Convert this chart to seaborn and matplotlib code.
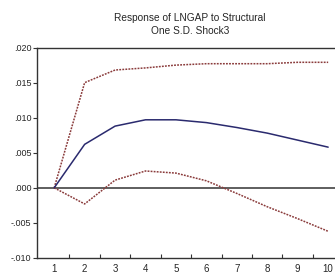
import numpy as np
import pandas as pd
import matplotlib
matplotlib.use("Agg")
import matplotlib.pyplot as plt
import seaborn as sns
from matplotlib.ticker import FuncFormatter, FixedLocator

periods = [1, 2, 3, 4, 5, 6, 7, 8, 9, 10]
response = [0.0, 0.0062, 0.0088, 0.0097, 0.0097, 0.0093, 0.0086, 0.0078, 0.0068, 0.0058]
upper = [0.0, 0.0150, 0.0168, 0.0171, 0.0175, 0.0177, 0.0177, 0.0177, 0.0179, 0.0179]
lower = [0.0, -0.0023, 0.0011, 0.0024, 0.0021, 0.0010, -0.0008, -0.0027, -0.0044, -0.0062]
yticks = [-0.010, -0.005, 0.000, 0.005, 0.010, 0.015, 0.020]

df = pd.DataFrame({"okres": periods, "odp": response, "gora": upper, "dol": lower})

sns.set_style("white")
plt.rcParams['font.family'] = ['Liberation Sans', 'DejaVu Sans']

fig = plt.figure(figsize=(3.35, 2.75), dpi=100)
ax = fig.add_axes([0.110, 0.062, 0.915, 0.765])

sns.lineplot(data=df, x="okres", y="gora", ax=ax, color="#8a3b3b",
             linestyle=(0, (1.2, 0.8)), linewidth=1.1)
sns.lineplot(data=df, x="okres", y="dol", ax=ax, color="#8a3b3b",
             linestyle=(0, (1.2, 0.8)), linewidth=1.1)
sns.lineplot(data=df, x="okres", y="odp", ax=ax, color="#2a2a6e", linewidth=1.1)
ax.axhline(0, color="#333333", linewidth=1.1, zorder=1)

ax.set_xlim(0.43, 10.5)
ax.set_ylim(-0.010, 0.020)
ax.set_xlabel("")
ax.set_ylabel("")

ax.set_yticks(yticks)
ax.yaxis.set_major_formatter(FuncFormatter(
    lambda v, p: ("-" if v < -1e-9 else "") + ("%.3f" % abs(v))[1:]))
ax.tick_params(axis="y", direction="out", length=3, width=0.8, labelsize=6.5,
               pad=1, left=True, color="#333333")

ax.set_xticks(periods)
ax.xaxis.set_minor_locator(FixedLocator([p + 0.5 for p in periods[:-1]]))
ax.tick_params(axis="x", which="major", length=0, labelsize=7, pad=4)
ax.tick_params(axis="x", which="minor", direction="in", length=3, width=0.8,
               bottom=True, color="#333333")

for s in ax.spines.values():
    s.set_color("#333333")
    s.set_linewidth(1.0)

ax.set_title("Response of LNGAP to Structural\nOne S.D. Shock3",
             fontsize=7.3, pad=10, linespacing=1.35)

fig.savefig("out.png", dpi=100)
